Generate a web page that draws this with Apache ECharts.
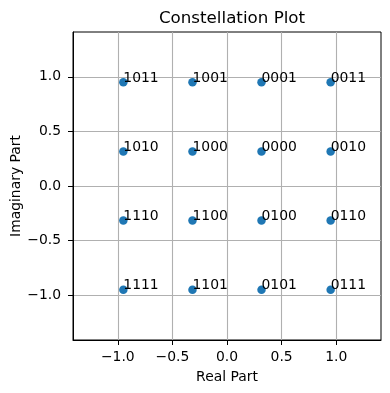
<!DOCTYPE html>
<html><head><meta charset="utf-8">
<script src="https://cdn.jsdelivr.net/npm/echarts@6/dist/echarts.min.js"></script>
<style>html,body{margin:0;padding:0;background:#fff}#c{width:390px;height:393px}</style>
</head><body><div id="c"></div>
<script>
const realVals = [-0.949, -0.316, 0.316, 0.949, -0.949, -0.316, 0.316, 0.949, -0.949, -0.316, 0.316, 0.949, -0.949, -0.316, 0.316, 0.949];
const imagVals = [0.949, 0.949, 0.949, 0.949, 0.316, 0.316, 0.316, 0.316, -0.316, -0.316, -0.316, -0.316, -0.949, -0.949, -0.949, -0.949];
const bitLabels = ['1011','1001','0001','0011','1010','1000','0000','0010','1110','1100','0100','0110','1111','1101','0101','0111'];
const tickVals = [-1.0, -0.5, 0.0, 0.5, 1.0];
const axisLim = 1.41;

const font = 'DejaVu Sans';
const fmt = v => (Math.round(v*10)/10).toFixed(1).replace('-', '\u2212');
function axis(name, gap, rot, margin) {
  return {
    type: 'value', min: -axisLim, max: axisLim,
    name: name, nameLocation: 'middle', nameGap: gap, nameRotate: rot, nameMoveOverlap: false,
    nameTextStyle: {fontFamily: font, fontSize: 13.9, color: '#000'},
    axisLine: {show: true, onZero: false, lineStyle: {color: '#000', width: 1}},
    axisTick: {show: true, length: 5, customValues: tickVals, lineStyle: {color: '#000', width: 1}},
    axisLabel: {customValues: tickVals, formatter: fmt, fontFamily: font, fontSize: 13.9, color: '#000', margin: margin},
    splitLine: {show: true, lineStyle: {color: '#b0b0b0', width: 1.1}}
  };
}
const data = realVals.map((x, i) => [x, imagVals[i], bitLabels[i]]);
const chart = echarts.init(document.getElementById('c'), null, {renderer: 'canvas'});
chart.setOption({
  animation: false,
  backgroundColor: '#fff',
  title: {text: 'Constellation Plot', left: 227, top: 5, textAlign: 'center',
    textStyle: {fontFamily: font, fontSize: 16.7, fontWeight: 'normal', color: '#000'}},
  grid: {left: 73, right: 9, top: 32, bottom: 53, show: true, borderColor: '#000', borderWidth: 1,
    containLabel: false, outerBoundsMode: 'none'},
  xAxis: axis('Real Part', 30, 0, 10),
  yAxis: axis('Imaginary Part', 50, 90, 12),
  series: [{
    type: 'scatter', data: data, symbolSize: 8.5,
    itemStyle: {color: '#1f77b4', opacity: 1},
    label: {show: true, formatter: p => p.data[2], position: ['50%', '50%'], align: 'left', verticalAlign: 'bottom',
      offset: [0, 3], fontFamily: font, fontSize: 13.9, color: '#000'}
  }]
});
</script></body></html>
